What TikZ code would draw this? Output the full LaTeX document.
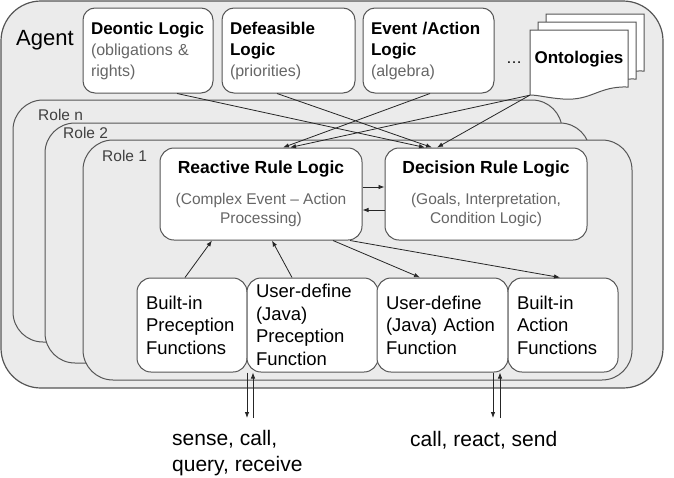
\documentclass[tikz,border=0pt]{standalone}
\usepackage{fontspec}
\setmainfont{Liberation Sans}
\usetikzlibrary{arrows.meta,positioning,calc}
\definecolor{subgray}{HTML}{666666}
\definecolor{agentgray}{HTML}{EBEBEB}
\definecolor{edgegray}{HTML}{555555}
\newcommand{\ttl}[1]{{\fontsize{17}{21}\selectfont\bfseries #1}}
\newcommand{\bigttl}[1]{{\fontsize{17.5}{21}\selectfont\bfseries #1}}
\newcommand{\subtxt}[1]{{\color{subgray}#1}}

\begin{document}
\begin{tikzpicture}[x=1pt,y=-1pt,
  agentbox/.style={draw=edgegray,line width=1.2pt,fill=agentgray,rounded corners=40pt},
  rolebox/.style={draw=edgegray,line width=1pt,fill=agentgray,rounded corners=30pt},
  rolelbl/.style={font=\fontsize{15.5}{18}\selectfont,text=black!75,anchor=west,inner sep=0pt},
  topbox/.style={draw=edgegray,line width=1pt,fill=white,rounded corners=12pt,align=left,minimum height=85pt,inner xsep=8pt,font=\fontsize{16}{21}\selectfont},
  logicbox/.style={draw=edgegray,line width=1pt,fill=white,rounded corners=14pt,align=center,minimum width=202pt,minimum height=92pt,font=\fontsize{15.5}{19.5}\selectfont},
  funcbox/.style={draw=edgegray,line width=1pt,fill=white,rounded corners=14pt,align=left,minimum height=94pt,inner xsep=9pt,font=\fontsize{18.5}{22.5}\selectfont},
  page/.style={draw=edgegray,line width=1pt,fill=white},
  conn/.style={draw=black!85,line width=0.8pt,-{Latex[length=6pt,width=4.5pt]}},
  iolbl/.style={font=\fontsize{21}{26}\selectfont,align=left,anchor=west,inner sep=0pt}]
\useasboundingbox[fill=white] (0,0) rectangle (674,477);

% agent frame
\draw[agentbox] (1,1) rectangle (663,388);
\node[font=\fontsize{22}{26}\selectfont,anchor=west,inner sep=0pt] (agentlbl) at (16,40) {Agent};

% logics shared by all roles
\node[topbox,text width=114pt] (deontic) at (148,50.5) {\ttl{Deontic Logic}\\\subtxt{(obligations \&}\\\subtxt{rights)}};
\node[topbox,text width=117pt] (defeasible) at (288.5,50.5) {\ttl{Defeasible}\\\ttl{Logic}\\\subtxt{(priorities)}};
\node[topbox,text width=115pt] (event) at (428.5,50.5) {\ttl{Event /Action}\\\ttl{Logic}\\\subtxt{(algebra)}};
\node[font=\fontsize{16}{20}\selectfont] (dots) at (514,63) {\ldots};
\foreach \d in {16,8,0} {
  \draw[page,shift={(\d,-\d)}] (530,30) -- (628,30) -- (628,87)
    .. controls (598,86) and (592,101) .. (563,99)
    .. controls (548,98) and (538,95) .. (530,95) -- cycle;
}
\node[minimum width=98pt,minimum height=65pt,text depth=11pt,inner sep=0pt] (onto) at (579,62.5) {\ttl{Ontologies}};

% roles
\draw[rolebox] (13,100) rectangle (562,342);
\node[rolelbl] (rolen) at (38,115) {Role n};
\draw[rolebox] (45,123) rectangle (590,363);
\node[rolelbl] (role2) at (63,133) {Role 2};
\draw[rolebox] (83,140) rectangle (632,380);
\node[rolelbl] (role1) at (102,156) {Role 1};

\node[logicbox] (reactive) at (261,194) {\bigttl{Reactive Rule Logic}\\[11pt]\subtxt{(Complex Event -- Action}\\\subtxt{Processing)}};
\node[logicbox] (decision) at (486,194) {\bigttl{Decision Rule Logic}\\[11pt]\subtxt{(Goals, Interpretation,}\\\subtxt{Condition Logic)}};

\node[funcbox,text width=92pt,minimum width=110pt] (bipf) at (192,325) {Built-in\\Preception\\Functions};
\node[funcbox,text width=113pt,minimum width=131pt] (udpf) at (312.5,325) {User-define\\(Java)\\Preception\\Function};
\node[funcbox,text width=113pt,minimum width=131pt] (udaf) at (442.5,325) {User-define\\(Java) Action\\Function};
\node[funcbox,text width=92pt,minimum width=110pt] (biaf) at (563,325) {Built-in\\Action\\Functions};

% connectors
\draw[conn] ([xshift=29pt]deontic.south) -- ([xshift=-61pt]decision.north);
\draw[conn] ([xshift=-11.5pt]defeasible.south) -- ([xshift=-54pt]decision.north);
\draw[conn] (onto.south west) -- ([xshift=-49pt]decision.north);
\draw[conn] ([xshift=1.5pt]event.south) -- ([xshift=22pt]reactive.north);
\draw[conn] (onto.south west) -- ([xshift=29pt]reactive.north);
\draw[conn] ([yshift=7pt]reactive.east) -- ([yshift=7pt]decision.west);
\draw[conn] ([yshift=-16pt]decision.west) -- ([yshift=-16pt]reactive.east);
\draw[conn] ([xshift=-7pt]bipf.north) -- ([xshift=-49pt]reactive.south);
\draw[conn] ([xshift=-20.5pt]udpf.north) -- ([xshift=11pt]reactive.south);
\draw[conn] ([xshift=72pt]reactive.south) -- ([xshift=-22.5pt]udaf.north);
\draw[conn] ([xshift=89pt]reactive.south) -- ([xshift=-3pt]biaf.north);

% environment interface
\coordinate (senseout) at (247,418);
\coordinate (sensein) at (253,418);
\coordinate (actout) at (493,418);
\coordinate (actin) at (500,418);
\draw[conn] ([xshift=-65.5pt]udpf.south) -- (senseout);
\draw[conn] (sensein) -- ([xshift=-59.5pt]udpf.south);
\draw[conn] ([xshift=50.5pt]udaf.south) -- (actout);
\draw[conn] (actin) -- ([xshift=57.5pt]udaf.south);
\node[iolbl] (senselbl) at (172,453) {sense, call,\\query, receive};
\node[iolbl] (actlbl) at (410,440) {call, react, send};
\end{tikzpicture}
\end{document}
